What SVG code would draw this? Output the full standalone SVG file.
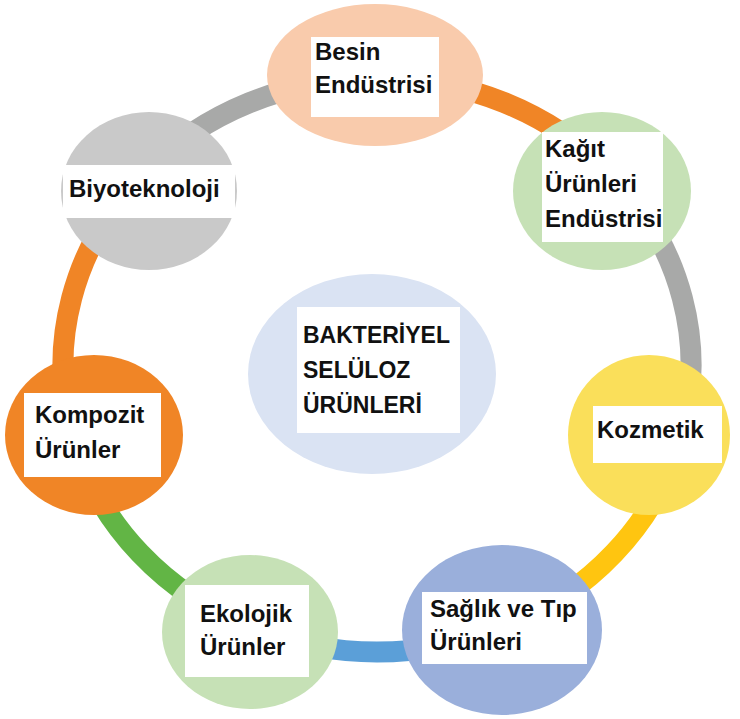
<svg xmlns="http://www.w3.org/2000/svg" width="740" height="719" viewBox="0 0 740 719">
  <style>
    .ring { fill: none; stroke-width: 21; }
    .label { fill: #ffffff; }
    .txt { font-family: "Liberation Sans", Arial, sans-serif; font-weight: bold; font-size: 24px; fill: #111111; }
    .big { font-size: 23px; }
  </style>
  <rect width="740" height="719" fill="#ffffff"/>

  <!-- ring segments between the nodes (ellipse cx 377, cy 365, rx 314, ry 287) -->
  <g id="connectors">
    <path class="ring" stroke="#F08526" d="M377,78 A314,287 0 0 1 610.3,173"/>
    <path class="ring" stroke="#A8A9A8" d="M610.3,173 A314,287 0 0 1 680.3,439.3"/>
    <path class="ring" stroke="#FFC510" d="M680.3,439.3 A314,287 0 0 1 499.7,629.2"/>
    <path class="ring" stroke="#5B9FD8" d="M499.7,629.2 A314,287 0 0 1 254.3,629.2"/>
    <path class="ring" stroke="#62B545" d="M254.3,629.2 A314,287 0 0 1 73.7,439.3"/>
    <path class="ring" stroke="#F08526" d="M73.7,439.3 A314,287 0 0 1 143.7,173"/>
    <path class="ring" stroke="#A8A9A8" d="M143.7,173 A314,287 0 0 1 377,78"/>
  </g>

  <g id="center">
    <ellipse cx="372" cy="374" rx="124" ry="100" fill="#DAE3F3"/>
    <rect class="label" x="297" y="307" width="163" height="126"/>
    <text class="txt big" x="303" y="343">BAKTERİYEL</text>
    <text class="txt big" x="303" y="378">SELÜLOZ</text>
    <text class="txt big" x="303" y="413">ÜRÜNLERİ</text>
  </g>

  <g id="besin">
    <ellipse cx="375" cy="75" rx="108" ry="71" fill="#F9CBAC"/>
    <rect class="label" x="311" y="37" width="128" height="80"/>
    <text class="txt" x="315" y="60">Besin</text>
    <text class="txt" x="315" y="93">Endüstrisi</text>
  </g>

  <g id="kagit">
    <ellipse cx="602" cy="191" rx="89" ry="79" fill="#C6E1B6"/>
    <rect class="label" x="542" y="132" width="121" height="110"/>
    <text class="txt" x="545" y="157">Kağıt</text>
    <text class="txt" x="545" y="192">Ürünleri</text>
    <text class="txt" x="545" y="227">Endüstrisi</text>
  </g>

  <g id="kozmetik">
    <ellipse cx="649" cy="435" rx="81" ry="80" fill="#FADF5A"/>
    <rect class="label" x="593" y="406" width="129" height="57"/>
    <text class="txt" x="597" y="438">Kozmetik</text>
  </g>

  <g id="saglik">
    <ellipse cx="502" cy="630" rx="100" ry="85" fill="#9AAFDB"/>
    <rect class="label" x="422" y="592" width="165" height="72"/>
    <text class="txt" x="430" y="617">Sağlık ve Tıp</text>
    <text class="txt" x="430" y="650">Ürünleri</text>
  </g>

  <g id="ekolojik">
    <ellipse cx="250" cy="632" rx="88" ry="77" fill="#C6E1B6"/>
    <rect class="label" x="185" y="585" width="124" height="92"/>
    <text class="txt" x="200" y="622">Ekolojik</text>
    <text class="txt" x="200" y="655">Ürünler</text>
  </g>

  <g id="kompozit">
    <ellipse cx="94" cy="435" rx="89" ry="80" fill="#F08526"/>
    <rect class="label" x="24" y="393" width="137" height="84"/>
    <text class="txt" x="35" y="423">Kompozit</text>
    <text class="txt" x="35" y="458">Ürünler</text>
  </g>

  <g id="biyoteknoloji">
    <ellipse cx="149" cy="191" rx="88" ry="79" fill="#C9C9C9"/>
    <rect class="label" x="63" y="165" width="172" height="53"/>
    <text class="txt" x="69" y="197">Biyoteknoloji</text>
  </g>
</svg>
